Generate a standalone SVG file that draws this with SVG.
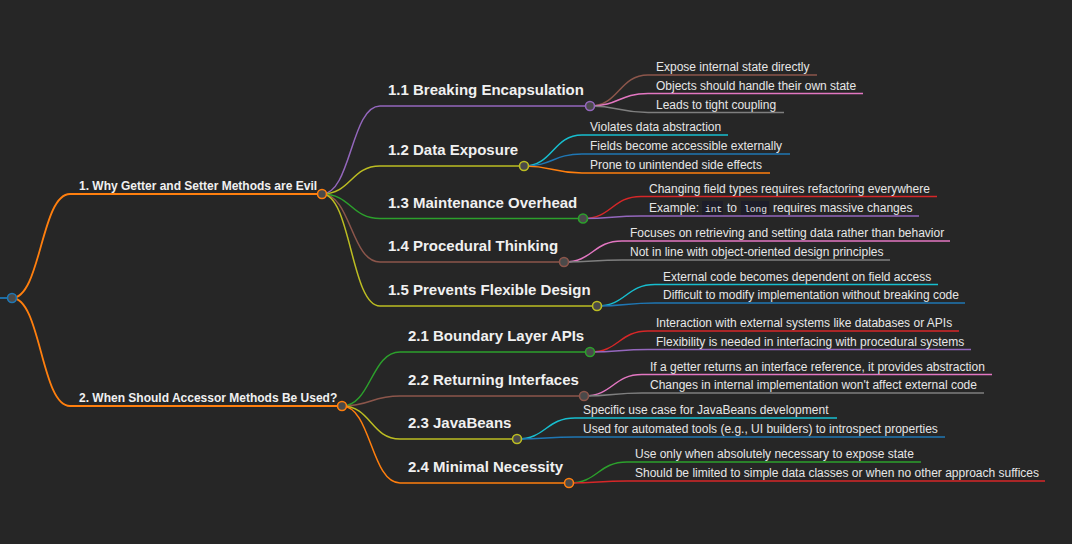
<svg xmlns="http://www.w3.org/2000/svg" width="1072" height="544" viewBox="0 0 1072 544">
<style>
.e{fill:none;stroke-width:1.5}
.e1{fill:none;stroke-width:1.8}
.blue{stroke:#1f77b4}.orange{stroke:#ff7f0e}.green{stroke:#2ca02c}.red{stroke:#d62728}
.purple{stroke:#9467bd}.brown{stroke:#8c564b}.pink{stroke:#e377c2}.gray{stroke:#7f7f7f}
.olive{stroke:#bcbd22}.cyan{stroke:#17becf}
.c{fill:#4a4a4a;stroke-width:1.6}
.t1{font-family:"Liberation Sans",Arial,sans-serif;font-size:12px;font-weight:bold;fill:#f0f0f0}
.t2{font-family:"Liberation Sans",Arial,sans-serif;font-size:15px;font-weight:bold;fill:#f0f0f0}
.t3{font-family:"Liberation Sans",Arial,sans-serif;font-size:12px;fill:#e6e6e6}
.code{font-family:"Liberation Mono","DejaVu Sans Mono",monospace;font-size:9.6px;fill:#e6e6e6}
.cb{fill:#1d1d29}
</style>
<rect x="0" y="0" width="1072" height="544" fill="#262626"/>
<g id="connectors">
<path class="e1 blue" d="M0,298 H12"/>
<path class="e1 orange" d="M12,298 C41,298 41,194 70,194 H322"/>
<path class="e1 orange" d="M12,298 C41,298 41,406 70,406 H342"/>
<path class="e purple" d="M322,194 C351,194 351,106 380,106 H590"/>
<path class="e olive" d="M322,194 C351,194 351,166 380,166 H524"/>
<path class="e green" d="M322,194 C351,194 351,218.5 380,218.5 H583"/>
<path class="e brown" d="M322,194 C351,194 351,262 380,262 H564"/>
<path class="e olive" d="M322,194 C351,194 351,306 380,306 H597"/>
<path class="e green" d="M342,406 C371,406 371,352 400,352 H590"/>
<path class="e brown" d="M342,406 C371,406 371,396 400,396 H584"/>
<path class="e olive" d="M342,406 C371,406 371,439 400,439 H517"/>
<path class="e orange" d="M342,406 C371,406 371,483 400,483 H569"/>
<path class="e brown" d="M590,106 C619,106 619,75 648,75 H817"/>
<path class="e pink" d="M590,106 C619,106 619,93.5 648,93.5 H863"/>
<path class="e gray" d="M590,106 C619,106 619,112.5 648,112.5 H784"/>
<path class="e cyan" d="M524,166 C553,166 553,135 582,135 H728"/>
<path class="e blue" d="M524,166 C553,166 553,154 582,154 H790"/>
<path class="e orange" d="M524,166 C553,166 553,173 582,173 H770"/>
<path class="e red" d="M583,218.5 C612,218.5 612,196.5 641,196.5 H937"/>
<path class="e purple" d="M583,218.5 C612,218.5 612,216 641,216 H919"/>
<path class="e pink" d="M564,262 C593,262 593,241 622,241 H950"/>
<path class="e gray" d="M564,262 C593,262 593,260 622,260 H890"/>
<path class="e cyan" d="M597,306 C626,306 626,284.5 655,284.5 H938"/>
<path class="e blue" d="M597,306 C626,306 626,303 655,303 H965"/>
<path class="e red" d="M590,352 C619,352 619,331 648,331 H959"/>
<path class="e purple" d="M590,352 C619,352 619,349.5 648,349.5 H971"/>
<path class="e pink" d="M584,396 C613,396 613,374.5 642,374.5 H992"/>
<path class="e gray" d="M584,396 C613,396 613,393 642,393 H984"/>
<path class="e cyan" d="M517,439 C546,439 546,418 575,418 H837"/>
<path class="e blue" d="M517,439 C546,439 546,437 575,437 H945"/>
<path class="e green" d="M569,483 C598,483 598,462 627,462 H921"/>
<path class="e red" d="M569,483 C598,483 598,481 627,481 H1045"/>
</g>
<g id="root"><circle class="c blue" cx="12" cy="298" r="4.5"/></g>
<g id="n1"><text class="t1" x="79" y="190">1. Why Getter and Setter Methods are Evil</text><circle class="c orange" cx="322" cy="194" r="4.5"/></g>
<g id="n2"><text class="t1" x="79" y="402">2. When Should Accessor Methods Be Used?</text><circle class="c orange" cx="342" cy="406" r="4.5"/></g>
<g id="n1-1"><text class="t2" x="388" y="95">1.1 Breaking Encapsulation</text><circle class="c purple" cx="590" cy="106" r="4.5"/></g>
<g id="n1-2"><text class="t2" x="388" y="155">1.2 Data Exposure</text><circle class="c olive" cx="524" cy="166" r="4.5"/></g>
<g id="n1-3"><text class="t2" x="388" y="207.5">1.3 Maintenance Overhead</text><circle class="c green" cx="583" cy="218.5" r="4.5"/></g>
<g id="n1-4"><text class="t2" x="388" y="251">1.4 Procedural Thinking</text><circle class="c brown" cx="564" cy="262" r="4.5"/></g>
<g id="n1-5"><text class="t2" x="388" y="295">1.5 Prevents Flexible Design</text><circle class="c olive" cx="597" cy="306" r="4.5"/></g>
<g id="n2-1"><text class="t2" x="408" y="341">2.1 Boundary Layer APIs</text><circle class="c green" cx="590" cy="352" r="4.5"/></g>
<g id="n2-2"><text class="t2" x="408" y="385">2.2 Returning Interfaces</text><circle class="c brown" cx="584" cy="396" r="4.5"/></g>
<g id="n2-3"><text class="t2" x="408" y="428">2.3 JavaBeans</text><circle class="c olive" cx="517" cy="439" r="4.5"/></g>
<g id="n2-4"><text class="t2" x="408" y="472">2.4 Minimal Necessity</text><circle class="c orange" cx="569" cy="483" r="4.5"/></g>
<g id="l1-1-1"><text class="t3" x="656" y="71">Expose internal state directly</text></g>
<g id="l1-1-2"><text class="t3" x="656" y="89.5">Objects should handle their own state</text></g>
<g id="l1-1-3"><text class="t3" x="656" y="108.5">Leads to tight coupling</text></g>
<g id="l1-2-1"><text class="t3" x="590" y="131">Violates data abstraction</text></g>
<g id="l1-2-2"><text class="t3" x="590" y="150">Fields become accessible externally</text></g>
<g id="l1-2-3"><text class="t3" x="590" y="169">Prone to unintended side effects</text></g>
<g id="l1-3-1"><text class="t3" x="649" y="192.5">Changing field types requires refactoring everywhere</text></g>
<g id="l1-3-2">
<rect class="cb" x="702" y="201" width="21" height="14"/>
<rect class="cb" x="741" y="201" width="28" height="14"/>
<text class="t3" x="649" y="212">Example:</text>
<text class="code" x="705" y="211.5">int</text>
<text class="t3" x="727" y="212">to</text>
<text class="code" x="744" y="211.5">long</text>
<text class="t3" x="773" y="212">requires massive changes</text>
</g>
<g id="l1-4-1"><text class="t3" x="630" y="237">Focuses on retrieving and setting data rather than behavior</text></g>
<g id="l1-4-2"><text class="t3" x="630" y="256">Not in line with object-oriented design principles</text></g>
<g id="l1-5-1"><text class="t3" x="663" y="280.5">External code becomes dependent on field access</text></g>
<g id="l1-5-2"><text class="t3" x="663" y="299">Difficult to modify implementation without breaking code</text></g>
<g id="l2-1-1"><text class="t3" x="656" y="327">Interaction with external systems like databases or APIs</text></g>
<g id="l2-1-2"><text class="t3" x="656" y="345.5">Flexibility is needed in interfacing with procedural systems</text></g>
<g id="l2-2-1"><text class="t3" x="650" y="370.5">If a getter returns an interface reference, it provides abstraction</text></g>
<g id="l2-2-2"><text class="t3" x="650" y="389">Changes in internal implementation won't affect external code</text></g>
<g id="l2-3-1"><text class="t3" x="583" y="414">Specific use case for JavaBeans development</text></g>
<g id="l2-3-2"><text class="t3" x="583" y="433">Used for automated tools (e.g., UI builders) to introspect properties</text></g>
<g id="l2-4-1"><text class="t3" x="635" y="458">Use only when absolutely necessary to expose state</text></g>
<g id="l2-4-2"><text class="t3" x="635" y="477">Should be limited to simple data classes or when no other approach suffices</text></g>
</svg>
